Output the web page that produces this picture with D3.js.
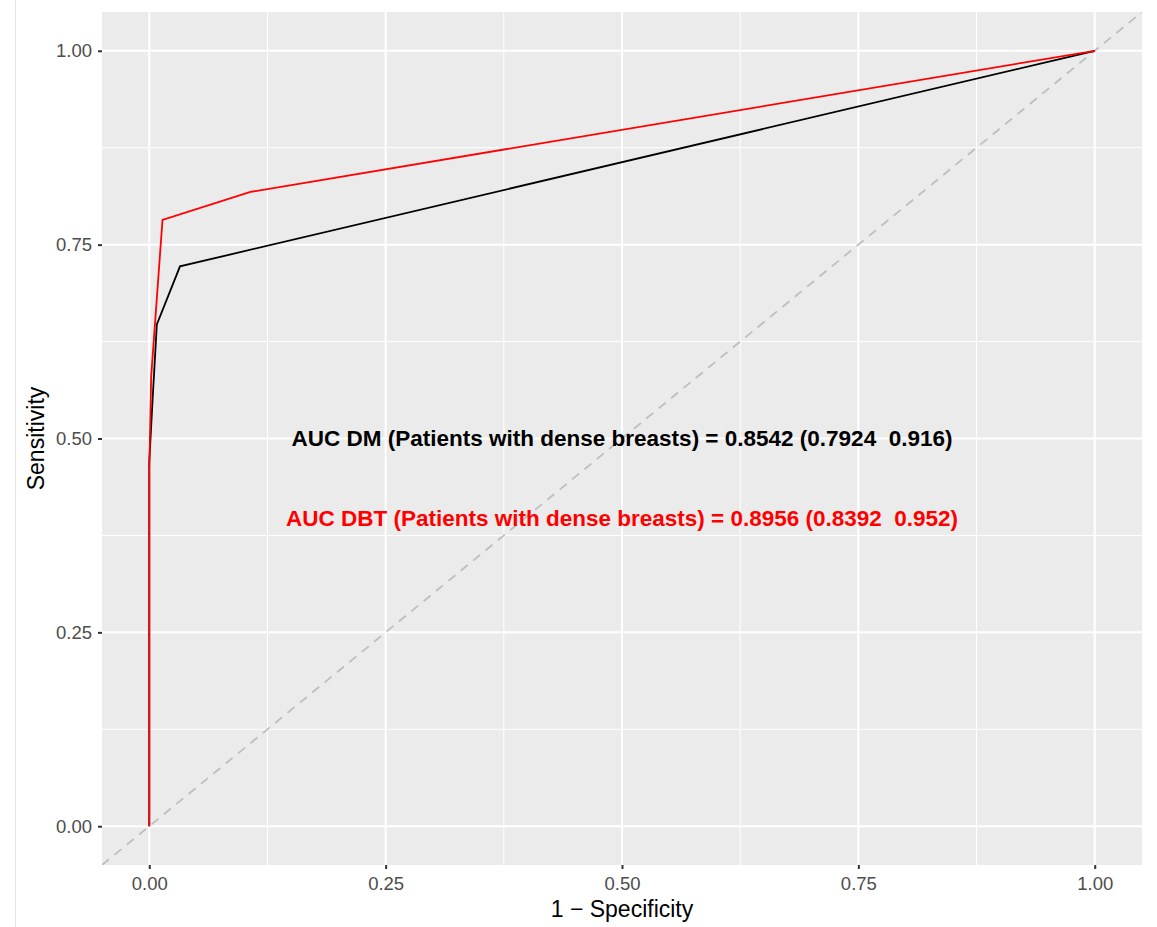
<!DOCTYPE html>
<html>
<head>
<meta charset="utf-8">
<script src="https://cdn.jsdelivr.net/npm/d3@7"></script>
<style>
  body { margin: 0; background: #fff; }
  text { font-family: "Liberation Sans", Arial, sans-serif; }
</style>
</head>
<body>
<div id="chart"></div>
<script>
// ROC curves (1 - specificity, sensitivity)
const dmFpr  = [0, 0, 0.0035, 0.008, 0.0325, 1];
const dmTpr  = [0, 0.47, 0.55, 0.647, 0.722, 1];
const dbtFpr = [0, 0, 0.002, 0.014, 0.107, 1];
const dbtTpr = [0, 0.46, 0.58, 0.782, 0.818, 1];

const tickValues = [0, 0.25, 0.5, 0.75, 1];
const minorValues = [0.125, 0.375, 0.625, 0.875];

const labelDM  = "AUC DM (Patients with dense breasts) = 0.8542 (0.7924  0.916)";
const labelDBT = "AUC DBT (Patients with dense breasts) = 0.8956 (0.8392  0.952)";

const width = 1157, height = 927;
const panel = { left: 102, right: 1142, top: 12, bottom: 865 };

const svg = d3.select("#chart").append("svg")
  .attr("width", width)
  .attr("height", height);

// thin grey border line on the far left
svg.append("line")
  .attr("x1", 15.5).attr("x2", 15.5)
  .attr("y1", 0).attr("y2", height)
  .attr("stroke", "#e3e3e3")
  .attr("stroke-width", 1);

const x = d3.scaleLinear().domain([-0.05, 1.05]).range([panel.left, panel.right]);
const y = d3.scaleLinear().domain([-0.05, 1.05]).range([panel.bottom, panel.top]);

// panel background
svg.append("rect")
  .attr("x", panel.left).attr("y", panel.top)
  .attr("width", panel.right - panel.left)
  .attr("height", panel.bottom - panel.top)
  .attr("fill", "#ebebeb");

// grid lines
const grid = svg.append("g");
grid.selectAll(".vminor").data(minorValues).enter().append("line")
  .attr("x1", d => x(d)).attr("x2", d => x(d))
  .attr("y1", panel.top).attr("y2", panel.bottom)
  .attr("stroke", "#fff").attr("stroke-width", 1);
grid.selectAll(".hminor").data(minorValues).enter().append("line")
  .attr("y1", d => y(d)).attr("y2", d => y(d))
  .attr("x1", panel.left).attr("x2", panel.right)
  .attr("stroke", "#fff").attr("stroke-width", 1);
grid.selectAll(".vmajor").data(tickValues).enter().append("line")
  .attr("x1", d => x(d)).attr("x2", d => x(d))
  .attr("y1", panel.top).attr("y2", panel.bottom)
  .attr("stroke", "#fff").attr("stroke-width", 2);
grid.selectAll(".hmajor").data(tickValues).enter().append("line")
  .attr("y1", d => y(d)).attr("y2", d => y(d))
  .attr("x1", panel.left).attr("x2", panel.right)
  .attr("stroke", "#fff").attr("stroke-width", 2);

// clip for panel contents
svg.append("clipPath").attr("id", "clip")
  .append("rect")
  .attr("x", panel.left).attr("y", panel.top)
  .attr("width", panel.right - panel.left)
  .attr("height", panel.bottom - panel.top);

const plot = svg.append("g").attr("clip-path", "url(#clip)");

// chance diagonal
plot.append("line")
  .attr("x1", x(-0.05)).attr("y1", y(-0.05))
  .attr("x2", x(1.05)).attr("y2", y(1.05))
  .attr("stroke", "#bebebe")
  .attr("stroke-width", 1.8)
  .attr("stroke-dasharray", "9,7");

const line = d3.line().x(d => x(d[0])).y(d => y(d[1]));

plot.append("path")
  .datum(d3.zip(dmFpr, dmTpr))
  .attr("d", line)
  .attr("fill", "none")
  .attr("stroke", "#000")
  .attr("stroke-width", 1.8);

plot.append("path")
  .datum(d3.zip(dbtFpr, dbtTpr))
  .attr("d", line)
  .attr("fill", "none")
  .attr("stroke", "#ff0000")
  .attr("stroke-width", 1.8);

// annotations
svg.append("text")
  .attr("x", x(0.5)).attr("y", y(0.5))
  .attr("dy", "0.35em")
  .attr("text-anchor", "middle")
  .style("font-size", "22.5px")
  .style("font-weight", "bold")
  .style("white-space", "pre")
  .attr("fill", "#000")
  .text(labelDM);

svg.append("text")
  .attr("x", x(0.5)).attr("y", y(0.397))
  .attr("dy", "0.35em")
  .attr("text-anchor", "middle")
  .style("font-size", "22.5px")
  .style("font-weight", "bold")
  .style("white-space", "pre")
  .attr("fill", "#ff0000")
  .text(labelDBT);

// axes
const fmt = d3.format(".2f");
const xAxis = svg.append("g")
  .attr("transform", "translate(0," + panel.bottom + ")")
  .call(d3.axisBottom(x).tickValues(tickValues).tickFormat(fmt).tickSize(4).tickPadding(8));
const yAxis = svg.append("g")
  .attr("transform", "translate(" + panel.left + ",0)")
  .call(d3.axisLeft(y).tickValues(tickValues).tickFormat(fmt).tickSize(4).tickPadding(6));

[xAxis, yAxis].forEach(a => {
  a.select(".domain").remove();
  a.selectAll(".tick line").attr("stroke", "#333").attr("stroke-width", 2);
  a.selectAll(".tick text")
    .attr("fill", "#4d4d4d")
    .style("font-size", "18.5px")
    .style("font-family", "'Liberation Sans', Arial, sans-serif");
});

// axis titles
svg.append("text")
  .attr("x", x(0.5)).attr("y", 909)
  .attr("dy", "0.35em")
  .attr("text-anchor", "middle")
  .style("font-size", "23px")
  .text("1 \u2212 Specificity");

svg.append("text")
  .attr("transform", "translate(36," + y(0.5) + ") rotate(-90)")
  .attr("dy", "0.35em")
  .attr("text-anchor", "middle")
  .style("font-size", "23px")
  .text("Sensitivity");
</script>
</body>
</html>
